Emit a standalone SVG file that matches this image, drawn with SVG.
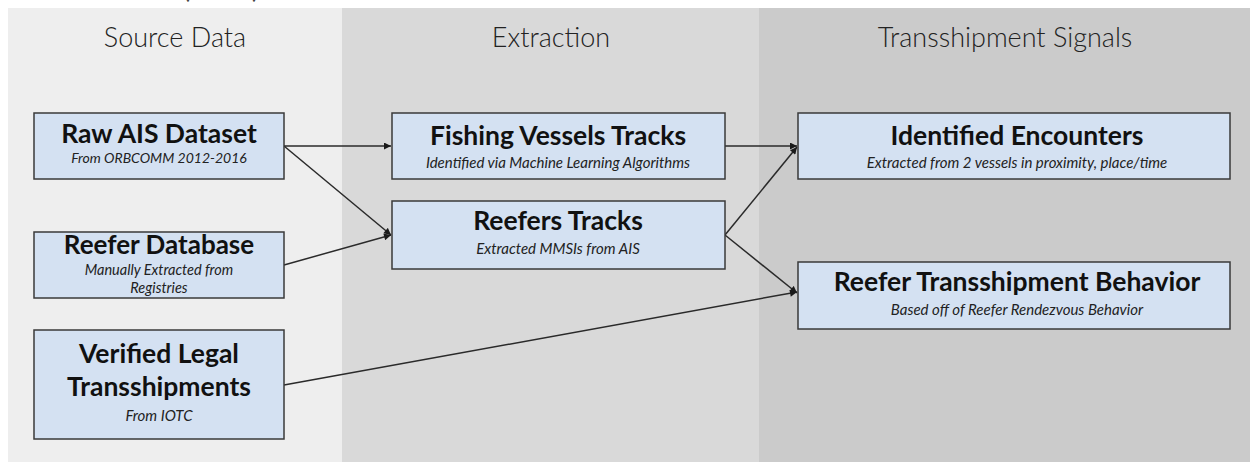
<svg xmlns="http://www.w3.org/2000/svg" width="1250" height="462" viewBox="0 0 1250 462">
<defs>
<style>
.hdr{font-family:Lato,"Open Sans","Liberation Sans",sans-serif;font-size:27px;fill:#222;text-anchor:middle;font-weight:300}
.node rect{fill:#d4e1f2;stroke:#3a3a3a;stroke-width:1.5}
.t{font-family:Lato,"Open Sans","Liberation Sans",sans-serif;font-weight:700;font-size:26.5px;fill:#111;text-anchor:middle}
.s{font-family:Lato,"Open Sans","Liberation Sans",sans-serif;font-style:italic;font-size:15px;fill:#222;text-anchor:middle}
.edge{fill:none;stroke:#2a2a2a;stroke-width:1.5;marker-end:url(#ah)}
.par{font-family:Lato,"Liberation Sans",sans-serif;font-size:26px;fill:#444}
</style>
<marker id="ah" viewBox="0 0 10 10" refX="10" refY="5" markerWidth="8" markerHeight="7" markerUnits="userSpaceOnUse" orient="auto">
<path d="M0,0 L10,5 L0,10 z" fill="#1a1a1a"/>
</marker>
</defs>
<rect x="0" y="0" width="1250" height="462" fill="#ffffff"/>
<g id="panels">
<rect x="8" y="8" width="334" height="454" fill="#eeeeee"/>
<rect x="342" y="8" width="417" height="454" fill="#d9d9d9"/>
<rect x="759" y="8" width="491" height="454" fill="#cbcbcb"/>
<text class="par" x="183" y="-2">(</text>
<text class="par" x="252" y="-2">)</text>
<text class="hdr" x="175" y="47">Source Data</text>
<text class="hdr" x="551" y="47">Extraction</text>
<text class="hdr" x="1005" y="47">Transshipment Signals</text>
</g>
<g id="connectors">
<line class="edge" x1="284" y1="146" x2="391" y2="146"/>
<line class="edge" x1="284" y1="146" x2="391" y2="235"/>
<line class="edge" x1="284" y1="265" x2="391" y2="235"/>
<line class="edge" x1="284" y1="385" x2="797" y2="292"/>
<line class="edge" x1="725" y1="146" x2="797" y2="146"/>
<line class="edge" x1="725" y1="235" x2="797" y2="147"/>
<line class="edge" x1="725" y1="235" x2="797" y2="293"/>
</g>
<g id="raw-ais" class="node">
<rect x="34" y="113" width="250" height="66"/>
<text class="t" x="159" y="143">Raw AIS Dataset</text>
<text class="s" x="159" y="163" style="font-size:14px">From ORBCOMM 2012-2016</text>
</g>
<g id="reefer-db" class="node">
<rect x="34" y="232" width="250" height="66"/>
<text class="t" x="159" y="254" style="font-size:26px">Reefer Database</text>
<text class="s" x="159" y="275" style="font-size:14.5px">Manually Extracted from</text>
<text class="s" x="159" y="293" style="font-size:14.5px">Registries</text>
</g>
<g id="verified-legal" class="node">
<rect x="34" y="330" width="250" height="109"/>
<text class="t" x="159" y="363">Verified Legal</text>
<text class="t" x="159" y="396">Transshipments</text>
<text class="s" x="159" y="421">From IOTC</text>
</g>
<g id="fishing-tracks" class="node">
<rect x="392" y="113" width="333" height="66"/>
<text class="t" x="558" y="145">Fishing Vessels Tracks</text>
<text class="s" x="558" y="168">Identified via Machine Learning Algorithms</text>
</g>
<g id="reefers-tracks" class="node">
<rect x="392" y="201" width="333" height="68"/>
<text class="t" x="558" y="230">Reefers Tracks</text>
<text class="s" x="558" y="254">Extracted MMSIs from AIS</text>
</g>
<g id="encounters" class="node">
<rect x="798" y="113" width="432" height="66"/>
<text class="t" x="1017" y="145">Identified Encounters</text>
<text class="s" x="1017" y="168">Extracted from 2 vessels in proximity, place/time</text>
</g>
<g id="reefer-behavior" class="node">
<rect x="798" y="262" width="432" height="67"/>
<text class="t" x="1017" y="291">Reefer Transshipment Behavior</text>
<text class="s" x="1017" y="315">Based off of Reefer Rendezvous Behavior</text>
</g>
</svg>
